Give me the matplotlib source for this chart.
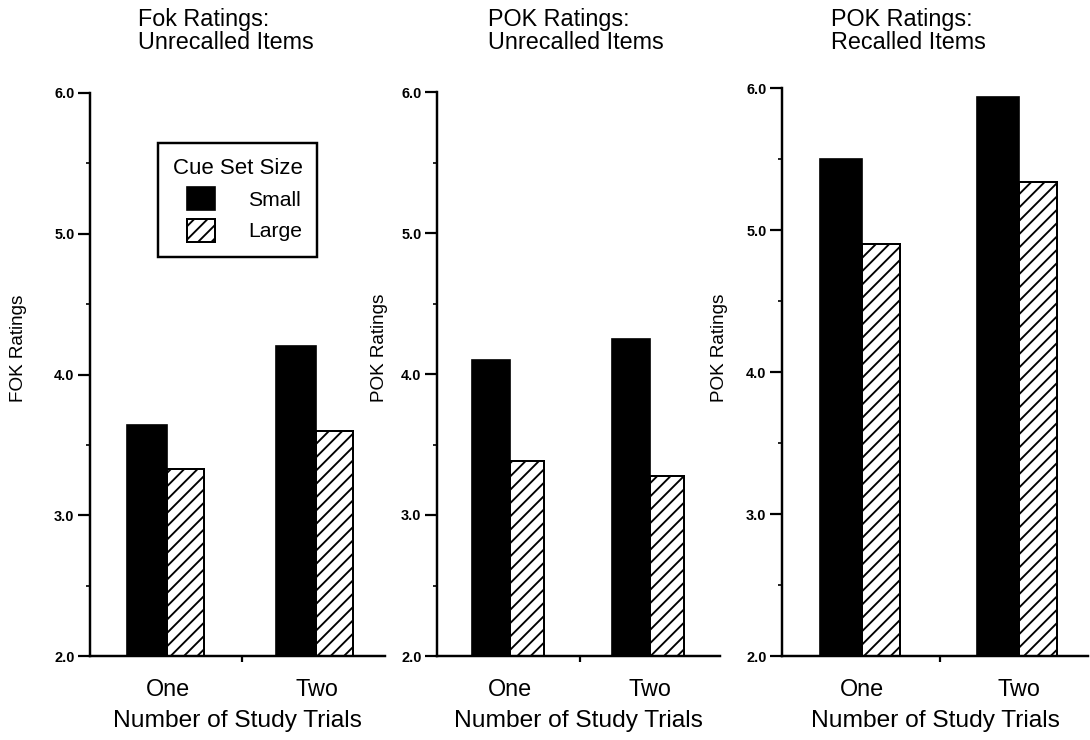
import matplotlib
matplotlib.use("Agg")
import matplotlib.pyplot as plt
from matplotlib.ticker import MultipleLocator, FixedLocator

plt.rcParams["font.family"] = ["Liberation Sans", "DejaVu Sans"]
plt.rcParams["hatch.linewidth"] = 1.7

categories = ["One", "Two"]
series_labels = ["Small", "Large"]

fok_unrecalled_small = [3.64, 4.20]
fok_unrecalled_large = [3.33, 3.60]
pok_unrecalled_small = [4.10, 4.25]
pok_unrecalled_large = [3.38, 3.28]
pok_recalled_small = [5.50, 5.94]
pok_recalled_large = [4.90, 5.34]

titles = ["Fok Ratings:\nUnrecalled Items",
          "POK Ratings:\nUnrecalled Items",
          "POK Ratings:\nRecalled Items"]
ylabels = ["FOK Ratings", "POK Ratings", "POK Ratings"]
xlabel = "Number of Study Trials"
yticks = [2.0, 3.0, 4.0, 5.0, 6.0]

W_SMALL = 0.27
W_LARGE = 0.245

# panel boxes in pixels (left, right, top), bottom is shared
FIG_W, FIG_H = 1090, 740
panels = [(90, 385, 93), (437, 720, 92), (782, 1088, 88)]
BOTTOM_PX = 656
xlims = [(-0.52, 1.46), (-0.52, 1.50), (-0.51, 1.44)]
title_x = [138, 488, 831]
ylabel_x = [19, 380, 720]

fig = plt.figure(figsize=(FIG_W / 80, FIG_H / 80), dpi=80)

data = [(fok_unrecalled_small, fok_unrecalled_large),
        (pok_unrecalled_small, pok_unrecalled_large),
        (pok_recalled_small, pok_recalled_large)]

for i, ((small, large), (l, r, t)) in enumerate(zip(data, panels)):
    ax = fig.add_axes([l / FIG_W, 1 - BOTTOM_PX / FIG_H,
                       (r - l) / FIG_W, (BOTTOM_PX - t) / FIG_H])
    x = list(range(len(categories)))
    x_small = [xi - W_SMALL for xi in x]
    b1 = ax.bar(x_small, small, width=W_SMALL, align="edge",
                color="black", edgecolor="black", linewidth=1.5,
                label=series_labels[0])
    b2 = ax.bar(x, large, width=W_LARGE, align="edge",
                color="white", edgecolor="black", linewidth=1.8,
                hatch="//", label=series_labels[1])

    ax.set_ylim(2.0, 6.0)
    ax.set_xlim(*xlims[i])
    ax.set_yticks(yticks)
    ax.set_yticklabels([f"{v:.1f}" for v in yticks],
                       fontsize=13, fontweight="bold")
    ax.yaxis.set_minor_locator(MultipleLocator(0.5))
    ax.tick_params(axis="y", which="major", direction="out",
                   length=11, width=2, pad=3)
    ax.tick_params(axis="y", which="minor", direction="out",
                   length=4, width=1.5)

    ax.set_xticks(x)
    ax.set_xticklabels(categories, fontsize=21)
    ax.xaxis.set_minor_locator(FixedLocator([0.5]))
    ax.tick_params(axis="x", which="major", length=0, pad=20)
    ax.tick_params(axis="x", which="minor", direction="out",
                   length=5, width=2)
    ax.set_xlabel(xlabel, fontsize=22, labelpad=8)

    for side in ["top", "right"]:
        ax.spines[side].set_visible(False)
    for side in ["left", "bottom"]:
        ax.spines[side].set_linewidth(2.2)

    fig.text(title_x[i] / FIG_W, 1 - 8 / FIG_H, titles[i],
             ha="left", va="top", fontsize=21, linespacing=0.98)
    fig.text(ylabel_x[i] / FIG_W, 1 - 348 / FIG_H, ylabels[i],
             rotation=90, ha="center", va="center", fontsize=17)

    if i == 0:
        leg = ax.legend(handles=[b1, b2], labels=series_labels,
                        title="Cue Set Size", loc="upper left",
                        bbox_to_anchor=(0.23, 0.911), fontsize=19,
                        title_fontsize=20, frameon=True, fancybox=False,
                        framealpha=1, edgecolor="black",
                        handlelength=1.3, handleheight=1.3,
                        handletextpad=1.6, labelspacing=0.4,
                        borderpad=0.7, borderaxespad=0,
                        alignment="right")
        leg.get_frame().set_linewidth(2.2)

fig.savefig("out.png", dpi=80)
